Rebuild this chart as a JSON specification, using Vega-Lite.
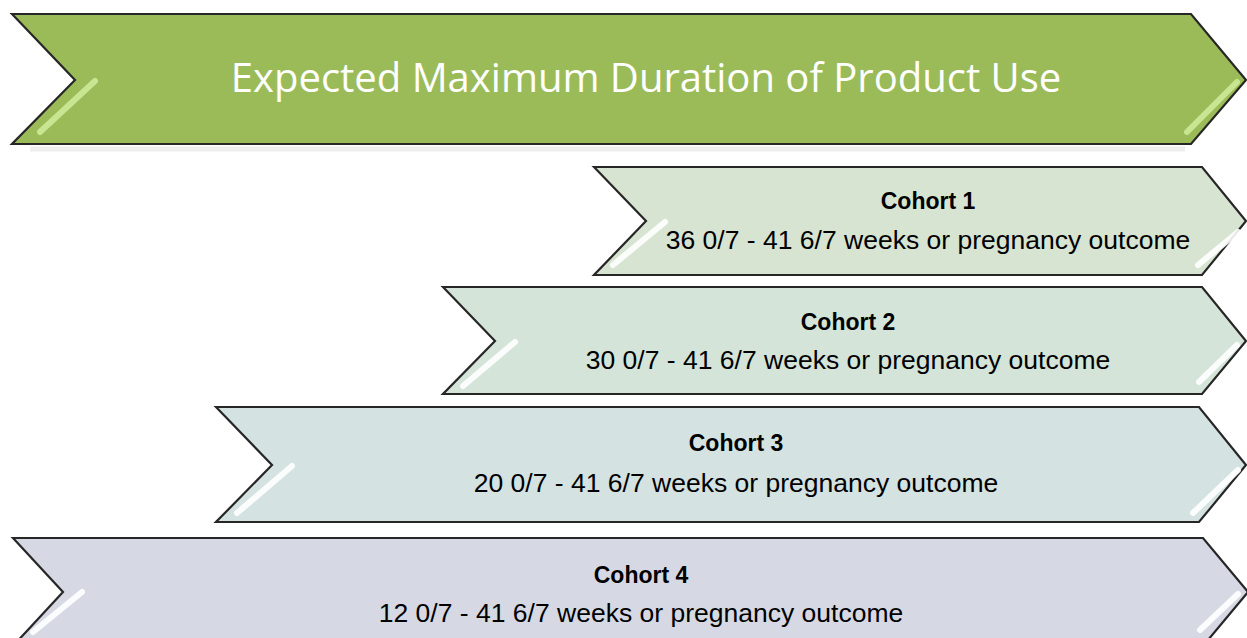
{
  "$schema": "https://vega.github.io/schema/vega-lite/v6.json",
  "width": 1247,
  "height": 638,
  "padding": 0,
  "autosize": {"type": "none"},
  "background": "#ffffff",
  "config": {"view": {"stroke": null}},
  "resolve": {"scale": {"color": "independent"}},
  "datasets": {
    "shapes": [
      {"id": "Header", "y": 14, "xl": 12, "xr": 1191},
      {"id": "Header", "y": 80, "xl": 75, "xr": 1246},
      {"id": "Header", "y": 144, "xl": 12, "xr": 1191},
      {"id": "Cohort 1", "y": 167, "xl": 594, "xr": 1202},
      {"id": "Cohort 1", "y": 221, "xl": 646, "xr": 1246},
      {"id": "Cohort 1", "y": 275, "xl": 594, "xr": 1202},
      {"id": "Cohort 2", "y": 287, "xl": 443, "xr": 1202},
      {"id": "Cohort 2", "y": 341, "xl": 495, "xr": 1246},
      {"id": "Cohort 2", "y": 394, "xl": 443, "xr": 1202},
      {"id": "Cohort 3", "y": 407, "xl": 216, "xr": 1199},
      {"id": "Cohort 3", "y": 465, "xl": 272, "xr": 1246},
      {"id": "Cohort 3", "y": 522, "xl": 216, "xr": 1199},
      {"id": "Cohort 4", "y": 538, "xl": 13, "xr": 1203},
      {"id": "Cohort 4", "y": 592, "xl": 63, "xr": 1248},
      {"id": "Cohort 4", "y": 646, "xl": 13, "xr": 1203}
    ],
    "gloss": [
      {"seg": "h1", "tone": "hdr", "pt": 1, "x": 95, "y": 81},
      {"seg": "h1", "tone": "hdr", "pt": 2, "x": 40, "y": 132},
      {"seg": "h2", "tone": "hdr", "pt": 1, "x": 1237, "y": 82},
      {"seg": "h2", "tone": "hdr", "pt": 2, "x": 1187, "y": 132},
      {"seg": "c1a", "tone": "ck", "pt": 1, "x": 665, "y": 222},
      {"seg": "c1a", "tone": "ck", "pt": 2, "x": 613, "y": 265},
      {"seg": "c1b", "tone": "ck", "pt": 1, "x": 1238, "y": 232},
      {"seg": "c1b", "tone": "ck", "pt": 2, "x": 1198, "y": 265},
      {"seg": "c2a", "tone": "ck", "pt": 1, "x": 515, "y": 342},
      {"seg": "c2a", "tone": "ck", "pt": 2, "x": 463, "y": 386},
      {"seg": "c2b", "tone": "ck", "pt": 1, "x": 1237, "y": 345},
      {"seg": "c2b", "tone": "ck", "pt": 2, "x": 1199, "y": 382},
      {"seg": "c3a", "tone": "ck", "pt": 1, "x": 292, "y": 466},
      {"seg": "c3a", "tone": "ck", "pt": 2, "x": 237, "y": 513},
      {"seg": "c3b", "tone": "ck", "pt": 1, "x": 1238, "y": 470},
      {"seg": "c3b", "tone": "ck", "pt": 2, "x": 1193, "y": 513},
      {"seg": "c4a", "tone": "ck", "pt": 1, "x": 82, "y": 592},
      {"seg": "c4a", "tone": "ck", "pt": 2, "x": 33, "y": 632},
      {"seg": "c4b", "tone": "ck", "pt": 1, "x": 1238, "y": 594},
      {"seg": "c4b", "tone": "ck", "pt": 2, "x": 1200, "y": 630}
    ],
    "shadow": [
      {"seg": "s", "pt": 1, "x": 30, "y": 149},
      {"seg": "s", "pt": 2, "x": 1185, "y": 149}
    ],
    "labels": [
      {"id": "Cohort 1", "title": "Cohort 1", "sub": "36 0/7 - 41 6/7 weeks or pregnancy outcome", "cx": 928, "ty": 209, "sy": 249},
      {"id": "Cohort 2", "title": "Cohort 2", "sub": "30 0/7 - 41 6/7 weeks or pregnancy outcome", "cx": 848, "ty": 330, "sy": 369},
      {"id": "Cohort 3", "title": "Cohort 3", "sub": "20 0/7 - 41 6/7 weeks or pregnancy outcome", "cx": 736, "ty": 451, "sy": 492},
      {"id": "Cohort 4", "title": "Cohort 4", "sub": "12 0/7 - 41 6/7 weeks or pregnancy outcome", "cx": 641, "ty": 583, "sy": 622}
    ],
    "header": [
      {"title": "Expected Maximum Duration of Product Use", "cx": 646, "ty": 92}
    ]
  },
  "layer": [
    {
      "data": {"name": "shadow"},
      "mark": {"type": "line", "strokeWidth": 5, "stroke": "#C8C8C8", "opacity": 0.3},
      "encoding": {
        "x": {"field": "x", "type": "quantitative", "scale": {"domain": [0, 1247], "nice": false, "zero": false}, "axis": null},
        "y": {"field": "y", "type": "quantitative", "scale": {"domain": [0, 638], "reverse": true, "nice": false, "zero": false}, "axis": null},
        "detail": {"field": "seg"},
        "order": {"field": "pt"}
      }
    },
    {
      "data": {"name": "shapes"},
      "mark": {"type": "area", "orient": "horizontal", "stroke": "#262626", "strokeWidth": 2.2, "strokeJoin": "miter", "interpolate": "linear"},
      "encoding": {
        "y": {"field": "y", "type": "quantitative", "scale": {"domain": [0, 638], "reverse": true, "nice": false, "zero": false}, "axis": null},
        "x": {"field": "xl", "type": "quantitative", "stack": null, "scale": {"domain": [0, 1247], "nice": false, "zero": false}, "axis": null},
        "x2": {"field": "xr"},
        "color": {"field": "id", "type": "nominal", "scale": {"domain": ["Header", "Cohort 1", "Cohort 2", "Cohort 3", "Cohort 4"], "range": ["#9BBB59", "#D7E4D1", "#D4E4D9", "#D4E2E2", "#D6D9E3"]}, "legend": null},
        "opacity": {"value": 1}
      }
    },
    {
      "data": {"name": "gloss"},
      "mark": {"type": "line", "strokeWidth": 6, "strokeCap": "round", "opacity": 0.9},
      "encoding": {
        "x": {"field": "x", "type": "quantitative", "scale": {"domain": [0, 1247], "nice": false, "zero": false}, "axis": null},
        "y": {"field": "y", "type": "quantitative", "scale": {"domain": [0, 638], "reverse": true, "nice": false, "zero": false}, "axis": null},
        "detail": {"field": "seg"},
        "order": {"field": "pt"},
        "stroke": {"field": "tone", "type": "nominal", "scale": {"domain": ["hdr", "ck"], "range": ["#CDEB98", "#FFFFFF"]}, "legend": null}
      }
    },
    {
      "data": {"name": "header"},
      "mark": {"type": "text", "font": "Open Sans", "fontSize": 40, "color": "#FFFFFF", "align": "center", "baseline": "alphabetic"},
      "encoding": {
        "x": {"field": "cx", "type": "quantitative", "scale": {"domain": [0, 1247], "nice": false, "zero": false}, "axis": null},
        "y": {"field": "ty", "type": "quantitative", "scale": {"domain": [0, 638], "reverse": true, "nice": false, "zero": false}, "axis": null},
        "text": {"field": "title"}
      }
    },
    {
      "data": {"name": "labels"},
      "mark": {"type": "text", "font": "Liberation Sans", "fontSize": 23, "fontWeight": "bold", "color": "#000000", "align": "center", "baseline": "alphabetic"},
      "encoding": {
        "x": {"field": "cx", "type": "quantitative", "scale": {"domain": [0, 1247], "nice": false, "zero": false}, "axis": null},
        "y": {"field": "ty", "type": "quantitative", "scale": {"domain": [0, 638], "reverse": true, "nice": false, "zero": false}, "axis": null},
        "text": {"field": "title"}
      }
    },
    {
      "data": {"name": "labels"},
      "mark": {"type": "text", "font": "Liberation Sans", "fontSize": 26.5, "color": "#000000", "align": "center", "baseline": "alphabetic"},
      "encoding": {
        "x": {"field": "cx", "type": "quantitative", "scale": {"domain": [0, 1247], "nice": false, "zero": false}, "axis": null},
        "y": {"field": "sy", "type": "quantitative", "scale": {"domain": [0, 638], "reverse": true, "nice": false, "zero": false}, "axis": null},
        "text": {"field": "sub"}
      }
    }
  ]
}
